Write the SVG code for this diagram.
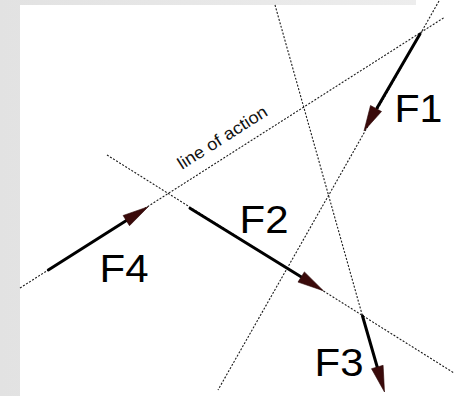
<svg xmlns="http://www.w3.org/2000/svg" width="454" height="396" viewBox="0 0 454 396">
  <defs>
    <style>
      .dash { stroke: #1a1a1a; stroke-width: 1.1; stroke-dasharray: 2 1.6; fill: none; }
      .shaft { stroke: #000; stroke-width: 3; fill: none; stroke-linecap: round; }
      .head { fill: #3a0a0a; stroke: #2a0505; stroke-width: 0.6; }
      .lbl { font-family: "Liberation Sans", Arial, sans-serif; font-size: 38px; fill: #000; }
      .loa { font-family: "Liberation Sans", Arial, sans-serif; font-size: 17px; fill: #111; }
    </style>
    <linearGradient id="bg" x1="0" y1="0" x2="1" y2="0">
      <stop offset="0" stop-color="#e2e2e2"/>
      <stop offset="1" stop-color="#eeeeee"/>
    </linearGradient>
  </defs>

  <rect x="0" y="0" width="454" height="396" fill="url(#bg)"/>
  <rect x="20" y="5" width="434" height="391" fill="#ffffff"/>
  <rect x="416" y="0" width="38" height="6" fill="#ffffff"/>

  <g id="connectors">
    <line class="dash" x1="20" y1="288" x2="445" y2="17"/>
    <line class="dash" x1="107" y1="155" x2="454" y2="373"/>
    <line class="dash" x1="275" y1="5" x2="362.5" y2="316"/>
    <line class="dash" x1="439" y1="1" x2="218" y2="390"/>
  </g>

  <g id="F1">
    <line class="shaft" x1="420" y1="34" x2="377" y2="108"/>
    <polygon class="head" points="364,131 381.5,111.5 370.5,105.5"/>
    <text class="lbl" x="394.5" y="122" textLength="48" lengthAdjust="spacingAndGlyphs">F1</text>
  </g>

  <g id="F2">
    <line class="shaft" x1="190" y1="208.3" x2="303" y2="278"/>
    <polygon class="head" points="323.3,290.7 298,282.1 304.4,271.9"/>
    <text class="lbl" x="239.6" y="233" textLength="49" lengthAdjust="spacingAndGlyphs">F2</text>
  </g>

  <g id="F3">
    <line class="shaft" x1="362.5" y1="316" x2="377.8" y2="369"/>
    <polygon class="head" points="384.5,392 371.5,368.7 383.1,365.3"/>
    <text class="lbl" x="314.6" y="376" textLength="49" lengthAdjust="spacingAndGlyphs">F3</text>
  </g>

  <g id="F4">
    <line class="shaft" x1="48.3" y1="270" x2="128" y2="219.5"/>
    <polygon class="head" points="148.3,206.7 129.5,225.7 123.1,215.5"/>
    <text class="lbl" x="99.6" y="282" textLength="49" lengthAdjust="spacingAndGlyphs">F4</text>
  </g>

  <g id="line-of-action-label">
    <text class="loa" x="182" y="170" transform="rotate(-32.5 182 170)" textLength="103" lengthAdjust="spacingAndGlyphs">line of action</text>
  </g>
</svg>
